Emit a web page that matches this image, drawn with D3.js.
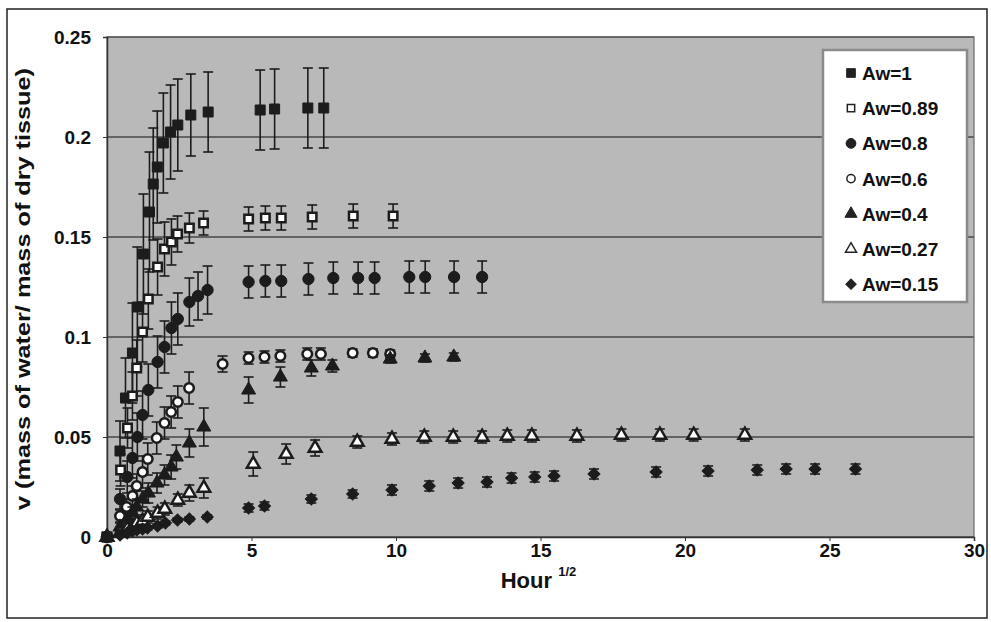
<!DOCTYPE html>
<meta charset="utf-8">
<script src="https://d3js.org/d3.v7.min.js"></script>
<style>
body { margin: 0; background: #fff; }
text { font-family: "Liberation Sans", Arial, sans-serif; font-weight: bold; fill: #111; }
</style>
<body>
<script>
var w = 991,
	h = 622,
	plotL = 107, plotR = 974, plotT = 37, plotB = 537;

var xTicks = [0, 5, 10, 15, 20, 25, 30],
	yTicks = [0, 0.05, 0.1, 0.15, 0.2, 0.25],
	seriesNames = ["Aw=1", "Aw=0.89", "Aw=0.8", "Aw=0.6", "Aw=0.4", "Aw=0.27", "Aw=0.15"];

// x = hour^1/2, y = v, err = error bar half height
var aw1_x   = [0, 0.45, 0.64, 0.88, 1.05, 1.26, 1.47, 1.6, 1.74, 1.95, 2.2, 2.45, 2.9, 3.5, 5.3, 5.8, 6.95, 7.5],
	aw1_y   = [0, 0.043, 0.0695, 0.092, 0.115, 0.1415, 0.1625, 0.1765, 0.185, 0.197, 0.2025, 0.206, 0.211, 0.2125, 0.2135, 0.214, 0.2145, 0.2145],
	aw1_err = [0, 0.015, 0.02, 0.025, 0.03, 0.03, 0.03, 0.028, 0.028, 0.025, 0.0235, 0.023, 0.0205, 0.02, 0.02, 0.02, 0.02, 0.02];

var aw089_x   = [0, 0.47, 0.71, 0.88, 1.03, 1.23, 1.43, 1.75, 1.99, 2.23, 2.44, 2.85, 3.34, 4.9, 5.48, 6.03, 7.1, 8.52, 9.9],
	aw089_y   = [0, 0.0335, 0.0545, 0.0705, 0.0845, 0.1025, 0.119, 0.135, 0.144, 0.1475, 0.1515, 0.1545, 0.157, 0.159, 0.1595, 0.1595, 0.16, 0.1605, 0.1605],
	aw089_err = [0, 0.008, 0.01, 0.012, 0.014, 0.015, 0.015, 0.014, 0.0135, 0.0115, 0.009, 0.0075, 0.006, 0.006, 0.006, 0.006, 0.006, 0.006, 0.006];

var aw08_x   = [0, 0.45, 0.7, 0.88, 1.05, 1.23, 1.43, 1.75, 1.99, 2.23, 2.45, 2.85, 3.15, 3.48, 4.9, 5.48, 6.03, 6.97, 7.83, 8.69, 9.26, 10.46, 11.01, 12.01, 12.98],
	aw08_y   = [0, 0.019, 0.03, 0.0395, 0.05, 0.061, 0.0735, 0.0875, 0.095, 0.1045, 0.109, 0.1175, 0.1205, 0.1235, 0.1275, 0.128, 0.128, 0.129, 0.1295, 0.1295, 0.1295, 0.13, 0.13, 0.13, 0.13],
	aw08_err = [0, 0.005, 0.008, 0.01, 0.012, 0.012, 0.013, 0.013, 0.013, 0.013, 0.013, 0.012, 0.012, 0.012, 0.008, 0.008, 0.008, 0.008, 0.008, 0.008, 0.008, 0.008, 0.008, 0.008, 0.008];

var aw06_x   = [0, 0.45, 0.68, 0.88, 1.03, 1.23, 1.41, 1.72, 1.99, 2.22, 2.45, 2.84, 4.0, 4.9, 5.45, 6.0, 6.93, 7.4, 8.5, 9.2, 9.8],
	aw06_y   = [0, 0.0105, 0.015, 0.0205, 0.0255, 0.0325, 0.039, 0.0495, 0.057, 0.0625, 0.0675, 0.0745, 0.0865, 0.0895, 0.09, 0.0905, 0.0915, 0.0915, 0.092, 0.092, 0.0915],
	aw06_err = [0, 0.003, 0.004, 0.005, 0.006, 0.008, 0.008, 0.008, 0.008, 0.008, 0.008, 0.008, 0.004, 0.003, 0.003, 0.003, 0.003, 0.003, 0.002, 0.002, 0.002];

var aw04_x   = [0, 0.45, 0.7, 0.88, 1.03, 1.23, 1.43, 1.73, 1.99, 2.22, 2.4, 2.85, 3.35, 4.9, 6.0, 7.07, 7.8, 9.8, 11.0, 12.0],
	aw04_y   = [0, 0.005, 0.009, 0.012, 0.015, 0.019, 0.022, 0.027, 0.031, 0.035, 0.04, 0.047, 0.055, 0.0735, 0.08, 0.0845, 0.0855, 0.089, 0.0895, 0.09],
	aw04_err = [0, 0.002, 0.003, 0.003, 0.004, 0.004, 0.005, 0.005, 0.005, 0.006, 0.006, 0.007, 0.0095, 0.0065, 0.005, 0.004, 0.003, 0.002, 0.002, 0.002];

var aw027_x   = [0, 0.45, 0.7, 0.88, 1.03, 1.23, 1.41, 1.75, 2.0, 2.45, 2.85, 3.35, 5.06, 6.2, 7.2, 8.66, 9.86, 10.98, 11.98, 12.98, 13.85, 14.7, 16.26, 17.8, 19.13, 20.3, 22.07],
	aw027_y   = [0, 0.002, 0.004, 0.005, 0.007, 0.008, 0.01, 0.012, 0.014, 0.0185, 0.022, 0.0245, 0.0365, 0.0415, 0.0445, 0.0475, 0.049, 0.05, 0.05, 0.05, 0.0505, 0.0505, 0.0505, 0.051, 0.051, 0.051, 0.051],
	aw027_err = [0, 0.001, 0.001, 0.002, 0.002, 0.002, 0.003, 0.003, 0.003, 0.003, 0.004, 0.005, 0.006, 0.005, 0.004, 0.003, 0.003, 0.003, 0.003, 0.003, 0.003, 0.003, 0.003, 0.003, 0.003, 0.003, 0.003];

var aw015_x   = [0, 0.45, 0.7, 0.88, 1.03, 1.23, 1.4, 1.75, 2.02, 2.44, 2.85, 3.47, 4.9, 5.45, 7.07, 8.5, 9.86, 11.15, 12.15, 13.15, 14.0, 14.8, 15.47, 16.85, 19.0, 20.8, 22.5, 23.5, 24.5, 25.9],
	aw015_y   = [0, 0.001, 0.002, 0.003, 0.0035, 0.004, 0.0045, 0.0055, 0.007, 0.0085, 0.009, 0.01, 0.0145, 0.0155, 0.019, 0.0215, 0.0235, 0.0255, 0.027, 0.0275, 0.0295, 0.03, 0.0305, 0.0315, 0.0325, 0.033, 0.0335, 0.034, 0.034, 0.034],
	aw015_err = [0, 0.001, 0.001, 0.001, 0.001, 0.001, 0.001, 0.001, 0.001, 0.001, 0.001, 0.001, 0.002, 0.002, 0.002, 0.002, 0.0025, 0.0025, 0.0025, 0.0025, 0.0025, 0.0025, 0.0025, 0.0025, 0.0025, 0.0025, 0.0025, 0.0025, 0.0025, 0.0025];

var series = [
	{name: seriesNames[0], xs: aw1_x,   ys: aw1_y,   es: aw1_err,   shape: d3.symbolSquare,   size: 100, open: false, rot: 0},
	{name: seriesNames[1], xs: aw089_x, ys: aw089_y, es: aw089_err, shape: d3.symbolSquare,   size: 72,  open: true,  rot: 0},
	{name: seriesNames[2], xs: aw08_x,  ys: aw08_y,  es: aw08_err,  shape: d3.symbolCircle,   size: 100, open: false, rot: 0},
	{name: seriesNames[3], xs: aw06_x,  ys: aw06_y,  es: aw06_err,  shape: d3.symbolCircle,   size: 72,  open: true,  rot: 0},
	{name: seriesNames[4], xs: aw04_x,  ys: aw04_y,  es: aw04_err,  shape: d3.symbolTriangle, size: 85,  open: false, rot: 0},
	{name: seriesNames[5], xs: aw027_x, ys: aw027_y, es: aw027_err, shape: d3.symbolTriangle, size: 70,  open: true,  rot: 0},
	{name: seriesNames[6], xs: aw015_x, ys: aw015_y, es: aw015_err, shape: d3.symbolSquare,   size: 72,  open: false, rot: 45}
];

var svg = d3.select("body").append("svg")
	.attr("width", w)
	.attr("height", h);

var x = d3.scaleLinear().domain([0, 30]).range([plotL, plotR]);
var y = d3.scaleLinear().domain([0, 0.25]).range([plotB, plotT]);

// outer frame
svg.append("rect")
	.attr("x", 7).attr("y", 9)
	.attr("width", 980).attr("height", 609)
	.style("fill", "#fff")
	.style("stroke", "#222")
	.style("stroke-width", 1.5);

// plot area
svg.append("rect")
	.attr("x", plotL).attr("y", plotT)
	.attr("width", plotR - plotL).attr("height", plotB - plotT)
	.style("fill", "#b9b9b9");

svg.selectAll(".grid")
	.data(yTicks)
	.enter()
	.append("line")
	.attr("x1", plotL).attr("x2", plotR)
	.attr("y1", function(d) { return y(d); })
	.attr("y2", function(d) { return y(d); })
	.style("stroke", "#474747")
	.style("stroke-width", 1.6);

svg.append("rect")
	.attr("x", plotL).attr("y", plotT)
	.attr("width", plotR - plotL).attr("height", plotB - plotT)
	.style("fill", "none")
	.style("stroke", "#6a6a6a")
	.style("stroke-width", 1.2);

var xAxis = svg.append("g")
	.attr("transform", "translate(0," + plotB + ")")
	.call(d3.axisBottom(x).tickValues(xTicks).tickSize(4).tickPadding(3));
xAxis.select(".domain").style("stroke", "#333").style("stroke-width", 1.5);
xAxis.selectAll("line").style("stroke", "#333");
xAxis.selectAll("text").style("font-size", "19px").style("font-family", "Liberation Sans, Arial, sans-serif").style("font-weight", "bold").style("fill", "#111");

var yAxis = svg.append("g")
	.attr("transform", "translate(" + plotL + ",0)")
	.call(d3.axisLeft(y).tickValues(yTicks).tickSize(4).tickPadding(12).tickFormat(function(d) { return String(d); }));
yAxis.select(".domain").style("stroke", "#333").style("stroke-width", 1.5);
yAxis.selectAll("line").style("stroke", "#333");
yAxis.selectAll("text").style("font-size", "19px").style("font-family", "Liberation Sans, Arial, sans-serif").style("font-weight", "bold").style("fill", "#111");

// axis titles
var xt = svg.append("text")
	.attr("x", (plotL + plotR) / 2 - 2)
	.attr("y", 588)
	.style("text-anchor", "middle")
	.style("font-size", "22px")
	.text("Hour ");
xt.append("tspan")
	.attr("dy", -12)
	.style("font-size", "13px")
	.text("1/2");

svg.append("text")
	.attr("transform", "translate(30," + ((plotT + plotB) / 2 + 2) + ") rotate(-90)")
	.style("text-anchor", "middle")
	.style("font-size", "20px")
	.attr("textLength", 442)
	.attr("lengthAdjust", "spacingAndGlyphs")
	.text("v (mass of water/ mass of dry tissue)");

// series: error bars, then markers
series.forEach(function(s) {
	var pts = s.xs.map(function(v, i) { return {x: v, y: s.ys[i], e: s.es[i]}; });
	var g = svg.append("g");
	var bars = pts.filter(function(d) { return d.e > 0; });

	g.selectAll(".bar")
		.data(bars).enter().append("line")
		.attr("x1", function(d) { return x(d.x); })
		.attr("x2", function(d) { return x(d.x); })
		.attr("y1", function(d) { return y(d.y - d.e); })
		.attr("y2", function(d) { return y(d.y + d.e); })
		.style("stroke", "#1c1c1c").style("stroke-width", 1.6);
	[-1, 1].forEach(function(sign) {
		g.selectAll(".cap" + sign)
			.data(bars).enter().append("line")
			.attr("x1", function(d) { return x(d.x) - 5; })
			.attr("x2", function(d) { return x(d.x) + 5; })
			.attr("y1", function(d) { return y(d.y + sign * d.e); })
			.attr("y2", function(d) { return y(d.y + sign * d.e); })
			.style("stroke", "#1c1c1c").style("stroke-width", 1.6);
	});

	g.selectAll("path")
		.data(pts).enter().append("path")
		.attr("d", d3.symbol().type(s.shape).size(s.size))
		.attr("transform", function(d) { return "translate(" + x(d.x) + "," + y(d.y) + ") rotate(" + s.rot + ")"; })
		.style("fill", s.open ? "#fff" : "#1c1c1c")
		.style("stroke", "#1c1c1c")
		.style("stroke-width", s.open ? 2.5 : 1);
});

// legend
var legend = svg.append("g");
legend.append("rect")
	.attr("x", 823).attr("y", 50)
	.attr("width", 144).attr("height", 252)
	.style("fill", "#fff")
	.style("stroke", "#8a8a8a")
	.style("stroke-width", 2.5);

var item = legend.selectAll(".item")
	.data(series).enter().append("g")
	.attr("transform", function(d, i) { return "translate(851," + (73 + i * 35.2) + ")"; });
item.append("path")
	.attr("d", function(d) { return d3.symbol().type(d.shape).size(d.size * 0.75)(); })
	.attr("transform", function(d) { return "rotate(" + d.rot + ")"; })
	.style("fill", function(d) { return d.open ? "#fff" : "#222"; })
	.style("stroke", "#222")
	.style("stroke-width", function(d) { return d.open ? 1.5 : 1; });
item.append("text")
	.attr("x", 11)
	.attr("y", 7)
	.style("font-size", "19px")
	.text(function(d) { return d.name; });
</script>
</body>
</html>
